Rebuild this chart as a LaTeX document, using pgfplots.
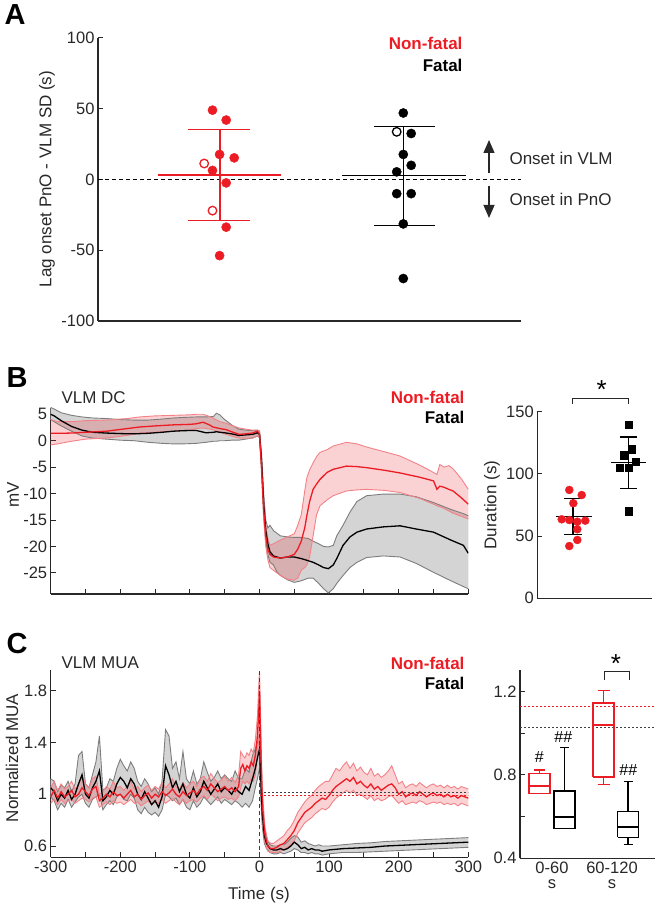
\documentclass[border=0pt]{standalone}
\usepackage{fontspec}
\setmainfont{Liberation Sans}
\usepackage{pgfplots}
\pgfplotsset{compat=1.18}
\usepackage{pgfplotstable}
\usepgfplotslibrary{fillbetween}
\usetikzlibrary{arrows.meta}
\definecolor{myred}{RGB}{236,28,36}
\definecolor{pinkedge}{RGB}{242,130,135}
\definecolor{greyfill}{RGB}{212,212,212}
\definecolor{greyedge}{RGB}{125,125,125}
\definecolor{axcol}{RGB}{40,40,40}
\newcommand\lab{\fontsize{17}{19}\selectfont}
\newcommand\panelfont{\fontsize{29}{30}\selectfont\bfseries}

\pgfplotsset{
  base/.style={scale only axis, axis x line*=bottom, axis y line*=left, tick align=inside,
   axis line style={axcol, line width=1.2pt}, tick style={axcol, line width=1pt},
   major tick length=5pt, minor tick length=5pt,
   tick label style={font=\fontsize{16.5}{18}\selectfont, text=axcol},
   /pgf/number format/assume math mode=true},
}

% ---------- Panel B: VLM DC (mV) ----------
\pgfplotstableread{
t m lo hi
-300 5.0 4.0 6.3
-295 4.7 3.6 6.0
-285 3.8 2.8 5.3
-270 2.7 1.8 4.8
-255 2.0 0.9 4.5
-240 1.6 0.5 4.3
-220 1.45 0.3 4.2
-200 1.35 0.1 4.0
-180 1.3 0.0 3.9
-160 1.4 -0.3 3.9
-140 1.6 -0.5 4.1
-124 1.8 -0.6 4.3
-110 1.9 -0.6 4.4
-91 1.95 -0.5 4.5
-77 1.5 -0.3 4.5
-66 1.6 -0.1 4.6
-62 1.7 -0.1 5.2
-57 1.6 0.0 4.9
-50 1.5 0.0 4.0
-40 1.3 0.1 3.0
-30 1.0 0.1 2.2
-20 1.1 0.3 2.0
-10 1.2 0.5 1.9
-3 1.5 0.9 2.0
0 1.2 0.6 1.8
3 -4 -5.5 -2.5
6 -12 -14 -10
9 -17 -19 -15
12 -19.5 -21.5 -16.5
15 -21 -23 -16
20 -21.8 -23.5 -17
25 -22 -24.8 -17.5
30 -22.2 -25.5 -18
40 -22 -26.3 -18.2
50 -22 -26.8 -18.3
60 -22.3 -26.5 -18.3
70 -22.7 -26 -18.5
77 -23 -26 -19
85 -23.5 -27 -19.5
92 -24 -28 -20
99 -24.2 -28.8 -20.1
106 -23.5 -28 -19.8
111 -22.3 -27 -18
120 -19.8 -25.5 -16
130 -18.2 -24 -13.5
140 -17.3 -23 -11.5
154 -16.7 -22.1 -10.4
178 -16.3 -21.8 -10.1
202 -16.1 -22 -10.1
225 -16.7 -23.2 -10.6
250 -17.3 -24.9 -11.7
275 -18.8 -26.5 -13
293 -19.8 -27.6 -13.8
300 -21.3 -28 -14.2
}\dcblack

\pgfplotstableread{
t m lo hi
-300 1.4 -0.8 4.0
-290 1.4 -0.6 3.6
-270 1.45 -0.1 3.6
-250 1.6 0.3 3.8
-220 1.8 0.5 3.9
-190 2.3 1.0 4.2
-172 2.6 1.45 4.5
-150 2.8 1.6 4.7
-124 3.0 1.8 4.8
-100 3.1 2.0 4.9
-91 3.2 2.3 5.0
-81 3.5 2.4 5.0
-72 3.0 2.2 4.6
-67 2.6 2.1 4.3
-57 2.3 1.6 3.6
-48 2.1 1.2 3.3
-38 1.6 0.8 2.8
-29 1.2 0.5 2.4
-20 1.3 0.5 2.2
-10 1.45 0.5 2.0
-3 1.8 0.9 2.0
0 1.3 0.6 1.9
3 -5 -6.5 -3.5
6 -13 -15 -11
9 -18 -20 -16
12 -20.5 -22.5 -18.5
15 -21.5 -24 -19.8
20 -22 -24.5 -19.5
30 -22.2 -25.5 -18.8
40 -22.0 -26.2 -18.2
50 -21.5 -26.4 -17.6
55 -20.5 -26.0 -16
60 -19 -24.5 -14
65 -16.5 -24 -9.5
68 -14.2 -23.5 -7
72 -11.5 -22 -5.5
77 -9.2 -18 -4.2
82 -8.2 -14 -3
87 -7.3 -12.3 -2.2
97 -6.0 -11.2 -1.7
106 -5.4 -10.4 -1.0
125 -4.8 -9.5 -0.3
140 -4.9 -9.3 -0.6
154 -5.1 -9.2 -1.2
180 -5.6 -9.4 -2.1
202 -6.1 -9.8 -2.9
230 -6.9 -10.9 -4.6
250 -7.6 -12 -6.0
255 -9.2 -12.3 -6.4
259 -8.6 -12.5 -4.5
265 -8.8 -12.8 -5.0
272 -9.2 -13.3 -4.7
278 -9.5 -13.7 -5.3
290 -10.8 -14.3 -7.2
300 -12 -14.8 -9.2
}\dcred

% ---------- Panel C: VLM MUA ----------
\pgfplotstableread{
t m lo hi
-300 1.05 0.98 1.12
-295 1.02 0.95 1.10
-290 0.95 0.88 1.02
-285 1.00 0.93 1.07
-280 0.97 0.90 1.05
-275 1.03 0.96 1.10
-270 0.96 0.90 1.02
-265 1.00 0.94 1.08
-260 1.08 0.98 1.30
-255 1.15 1.00 1.33
-250 1.00 0.93 1.08
-245 0.97 0.90 1.05
-240 1.05 0.96 1.15
-235 1.10 0.98 1.25
-230 1.18 1.00 1.45
-225 0.95 0.88 1.03
-220 0.98 0.92 1.05
-215 1.03 0.95 1.12
-210 1.00 0.92 1.10
-205 1.08 0.98 1.20
-200 1.13 1.00 1.27
-195 1.10 0.96 1.22
-190 1.05 0.95 1.18
-185 1.12 1.00 1.25
-180 1.08 0.97 1.20
-175 1.00 0.88 1.10
-170 0.96 0.85 1.06
-165 1.02 0.90 1.12
-160 0.97 0.86 1.08
-155 0.92 0.84 1.02
-150 0.95 0.86 1.05
-145 0.90 0.83 1.00
-140 0.98 0.88 1.10
-135 1.22 1.00 1.50
-130 1.15 0.98 1.45
-125 1.05 0.95 1.20
-120 1.10 0.97 1.25
-115 1.02 0.92 1.12
-110 1.08 0.96 1.33
-105 1.00 0.90 1.12
-100 0.97 0.88 1.08
-95 1.05 0.95 1.18
-90 0.98 0.90 1.08
-85 1.02 0.93 1.12
-80 1.10 0.98 1.25
-75 1.05 0.95 1.17
-70 1.00 0.92 1.10
-65 1.04 0.95 1.13
-60 1.08 0.98 1.18
-55 1.02 0.93 1.12
-50 1.05 0.96 1.15
-45 1.03 0.94 1.12
-40 1.00 0.92 1.10
-35 1.05 0.95 1.18
-30 1.02 0.93 1.12
-25 1.00 0.90 1.12
-20 1.06 0.93 1.20
-15 1.03 0.90 1.17
-10 1.12 0.95 1.30
-6 1.20 1.05 1.35
-3 1.28 1.12 1.40
0 1.35 1.20 1.45
2 1.10 0.95 1.20
4 0.85 0.75 0.95
7 0.68 0.62 0.75
10 0.62 0.58 0.66
15 0.58 0.55 0.61
20 0.57 0.54 0.60
25 0.57 0.54 0.60
30 0.58 0.55 0.61
35 0.57 0.54 0.61
40 0.58 0.55 0.63
45 0.60 0.56 0.66
50 0.63 0.58 0.68
55 0.61 0.57 0.67
60 0.58 0.55 0.63
65 0.59 0.55 0.64
70 0.57 0.54 0.62
75 0.58 0.55 0.61
80 0.57 0.54 0.60
85 0.57 0.54 0.61
90 0.56 0.53 0.60
100 0.57 0.54 0.60
120 0.58 0.55 0.61
140 0.585 0.55 0.62
160 0.59 0.555 0.625
180 0.60 0.56 0.635
200 0.605 0.565 0.64
220 0.61 0.57 0.645
240 0.615 0.575 0.65
260 0.62 0.58 0.655
280 0.625 0.585 0.66
300 0.63 0.59 0.665
}\muablack

\pgfplotstableread{
t m lo hi
-300 0.98 0.93 1.05
-295 1.03 0.96 1.10
-290 0.97 0.92 1.03
-285 1.02 0.96 1.08
-280 0.98 0.93 1.04
-275 1.00 0.95 1.06
-270 1.03 0.96 1.10
-265 0.98 0.93 1.04
-260 1.00 0.95 1.07
-255 1.05 0.97 1.15
-250 1.02 0.96 1.08
-245 0.99 0.94 1.05
-240 1.04 0.97 1.12
-235 1.06 0.98 1.14
-230 0.95 0.90 1.00
-225 0.97 0.92 1.02
-220 1.00 0.94 1.06
-215 0.98 0.92 1.04
-210 1.02 0.95 1.10
-205 0.99 0.93 1.05
-200 1.00 0.94 1.06
-195 0.97 0.92 1.03
-190 1.00 0.94 1.06
-185 1.03 0.96 1.10
-180 0.98 0.93 1.04
-175 1.00 0.94 1.06
-170 0.96 0.91 1.02
-165 0.99 0.93 1.05
-160 1.01 0.95 1.07
-155 0.97 0.92 1.03
-150 1.00 0.94 1.06
-145 0.98 0.93 1.04
-140 1.02 0.96 1.09
-135 0.99 0.93 1.05
-130 1.01 0.95 1.08
-125 1.04 0.97 1.12
-120 1.00 0.94 1.06
-115 0.98 0.92 1.04
-110 1.02 0.96 1.09
-105 0.99 0.93 1.05
-100 1.01 0.95 1.08
-95 1.03 0.96 1.10
-90 1.00 0.94 1.06
-85 1.04 0.97 1.12
-80 1.06 0.99 1.14
-75 1.03 0.96 1.10
-70 1.08 1.00 1.16
-65 1.05 0.98 1.12
-60 1.02 0.95 1.09
-55 1.04 0.97 1.11
-50 1.06 0.98 1.14
-45 1.03 0.96 1.10
-40 1.05 0.97 1.13
-35 1.02 0.95 1.09
-30 1.06 0.98 1.15
-27 1.20 1.05 1.33
-24 1.23 1.10 1.30
-21 1.18 1.08 1.28
-18 1.22 1.10 1.32
-15 1.20 1.08 1.30
-12 1.25 1.12 1.35
-9 1.22 1.10 1.32
-6 1.30 1.15 1.42
-3 1.45 1.30 1.60
-1 1.65 1.45 1.85
0 1.80 1.60 1.95
1 1.55 1.35 1.75
3 1.10 0.95 1.25
5 0.85 0.75 0.95
8 0.68 0.62 0.74
12 0.60 0.56 0.64
16 0.58 0.55 0.62
20 0.58 0.55 0.62
25 0.59 0.55 0.64
30 0.61 0.56 0.66
35 0.62 0.57 0.68
40 0.65 0.59 0.72
45 0.68 0.61 0.75
50 0.72 0.64 0.80
55 0.78 0.70 0.86
60 0.82 0.74 0.90
65 0.86 0.78 0.94
70 0.88 0.80 0.97
75 0.90 0.82 0.99
80 0.93 0.85 1.03
85 0.95 0.87 1.06
90 0.97 0.89 1.08
95 0.96 0.88 1.10
100 0.99 0.90 1.10
105 1.03 0.94 1.15
110 1.06 0.97 1.20
115 1.08 0.99 1.18
120 1.10 1.01 1.22
125 1.12 1.03 1.25
130 1.10 1.01 1.20
135 1.13 1.03 1.24
140 1.08 0.99 1.18
145 1.10 1.00 1.21
150 1.07 0.98 1.17
155 1.05 0.96 1.15
160 1.08 0.99 1.20
165 1.04 0.95 1.14
170 1.06 0.97 1.16
175 1.03 0.95 1.13
180 1.05 0.96 1.15
185 1.07 0.98 1.18
190 1.08 0.99 1.22
195 1.05 0.96 1.15
200 1.00 0.93 1.08
205 1.02 0.95 1.10
210 0.98 0.92 1.05
215 1.00 0.93 1.07
220 1.01 0.94 1.08
225 0.99 0.93 1.06
230 1.02 0.95 1.09
235 1.00 0.94 1.07
240 0.98 0.92 1.05
245 1.00 0.93 1.07
250 1.01 0.94 1.08
255 0.99 0.93 1.06
260 1.00 0.94 1.07
265 0.98 0.92 1.05
270 1.00 0.93 1.07
275 0.98 0.92 1.05
280 0.99 0.93 1.06
285 0.97 0.91 1.04
290 0.99 0.93 1.06
295 0.98 0.92 1.05
300 0.97 0.91 1.04
}\muared

\begin{document}
\begin{tikzpicture}[x=1pt,y=1pt]
\path (0,0) rectangle (656,907);

% ================= Panel A =================
\begin{axis}[base, at={(98pt,586pt)}, anchor=south west, width=423pt, height=283pt,
  xmin=98, xmax=521, ymin=-100, ymax=100, ytick={-100,-50,0,50,100}, xtick=\empty, clip=false]
\addplot[black, line width=1.3pt, dash pattern=on 4pt off 3pt] coordinates {(98,0) (521,0)};
\addplot[myred, line width=1.6pt] coordinates {(157.5,3.1) (281,3.1)};
\addplot[myred, line width=1.2pt] coordinates {(220,35.4) (220,-29)};
\addplot[myred, line width=1.2pt] coordinates {(188,35.4) (250,35.4)};
\addplot[myred, line width=1.2pt] coordinates {(188,-29) (250,-29)};
\addplot[black, line width=1.6pt] coordinates {(342,2.8) (466,2.8)};
\addplot[black, line width=1.2pt] coordinates {(403.3,37.3) (403.3,-32.3)};
\addplot[black, line width=1.2pt] coordinates {(374,37.3) (435,37.3)};
\addplot[black, line width=1.2pt] coordinates {(374,-32.3) (435,-32.3)};
\addplot[only marks, mark=*, mark size=4.6pt, myred, mark options={fill=myred}] coordinates {
(212.5,49) (226.2,42) (219.6,17.7) (234.2,15.3) (212.5,6.4) (226.2,-2.4) (226.2,-33.7) (219.6,-53.8)};
\addplot[only marks, mark=*, mark size=4.3pt, myred, mark options={fill=white, draw=myred, line width=1.3pt}] coordinates {
(204.2,11.3) (212.5,-22)};
\addplot[only marks, mark=*, mark size=4.6pt, black, mark options={fill=black}] coordinates {
(403.3,47) (411.2,32.5) (403.3,17.7) (411.2,10) (396.7,5.4) (396.7,-10) (411.2,-10) (403.3,-31.4) (403.3,-70)};
\addplot[only marks, mark=*, mark size=4.3pt, black, mark options={fill=white, draw=black, line width=1.3pt}] coordinates {
(396.7,33.7)};
\end{axis}

% ================= Panel B left =================
\begin{axis}[base, at={(50.7pt,313pt)}, anchor=south west, width=417.6pt, height=186.3pt,
  xmin=-300, xmax=300, ymin=-29, ymax=6.25, xtick={-300,-250,...,300}, xticklabels={},
  ytick={-25,-20,-15,-10,-5,0,5}]
\addplot[name path=bhi, greyedge, line width=0.9pt] table[x=t,y=hi]{\dcblack};
\addplot[name path=blo, greyedge, line width=0.9pt] table[x=t,y=lo]{\dcblack};
\addplot[fill=greyfill, draw=none] fill between[of=bhi and blo];
\addplot[name path=rhi, pinkedge, line width=0.9pt] table[x=t,y=hi]{\dcred};
\addplot[name path=rlo, pinkedge, line width=0.9pt] table[x=t,y=lo]{\dcred};
\addplot[fill=myred, fill opacity=0.2, draw=none] fill between[of=rhi and rlo];
\addplot[black, line width=1.3pt] table[x=t,y=m]{\dcblack};
\addplot[myred, line width=1.3pt] table[x=t,y=m]{\dcred};
\end{axis}

% ================= Panel B right =================
\begin{axis}[base, at={(537.3pt,308.7pt)}, anchor=south west, width=114.7pt, height=186.6pt,
  xmin=537.3, xmax=652, ymin=0, ymax=150, ytick={0,50,100,150}, xtick=\empty, clip=false]
\addplot[black, line width=1.3pt] coordinates {(556,66) (592,66)};
\addplot[black, line width=1.2pt] coordinates {(573,80.2) (573,51.6)};
\addplot[black, line width=1.2pt] coordinates {(564,80.2) (582,80.2)};
\addplot[black, line width=1.2pt] coordinates {(564,51.6) (582,51.6)};
\addplot[black, line width=1.3pt] coordinates {(610.7,108.9) (645.7,108.9)};
\addplot[black, line width=1.2pt] coordinates {(628.3,129.7) (628.3,88.3)};
\addplot[black, line width=1.2pt] coordinates {(620,129.7) (636.7,129.7)};
\addplot[black, line width=1.2pt] coordinates {(620,88.3) (636.7,88.3)};
\addplot[only marks, mark=*, mark size=4pt, myred, mark options={fill=myred}] coordinates {
(569.3,87.1) (581.7,83.0) (573.3,76.4) (561.7,63.5) (569.3,62.9) (577.3,61.6) (585.3,62.4) (577.3,55.5) (577.3,46.9) (569.3,42.0)};
\addplot[only marks, mark=square*, mark size=3.6pt, black, mark options={fill=black}] coordinates {
(628.3,139.6) (631.7,119.8) (624,115) (635.3,109.7) (620,104.8) (628.3,104.8) (628.3,70)};
\end{axis}

% ================= Panel C left =================
\begin{axis}[base, at={(50.7pt,49.7pt)}, anchor=south west, width=417.6pt, height=187.3pt,
  xmin=-300, xmax=300, ymin=0.513, ymax=1.96, xtick={-300,-200,...,300},
  minor xtick={-250,-150,...,250}, ytick={0.6,1,1.4,1.8}]
\addplot[name path=bhi, greyedge, line width=0.9pt] table[x=t,y=hi]{\muablack};
\addplot[name path=blo, greyedge, line width=0.9pt] table[x=t,y=lo]{\muablack};
\addplot[fill=greyfill, draw=none] fill between[of=bhi and blo];
\addplot[name path=rhi, pinkedge, line width=0.9pt] table[x=t,y=hi]{\muared};
\addplot[name path=rlo, pinkedge, line width=0.9pt] table[x=t,y=lo]{\muared};
\addplot[fill=myred, fill opacity=0.2, draw=none] fill between[of=rhi and rlo];
\addplot[black, line width=1.3pt] table[x=t,y=m]{\muablack};
\addplot[myred, line width=1.3pt] table[x=t,y=m]{\muared};
\addplot[black!75, line width=1.2pt, dash pattern=on 4pt off 3pt] coordinates {(0,0.513) (0,1.96)};
\addplot[black!75, line width=1.1pt, dash pattern=on 2pt off 2pt] coordinates {(1,1.015) (300,1.015)};
\addplot[myred, line width=1.1pt, dash pattern=on 2pt off 2pt] coordinates {(1,0.99) (300,0.99)};
\end{axis}

% ================= Panel C right =================
\begin{axis}[base, at={(520pt,48.7pt)}, anchor=south west, width=135pt, height=188.3pt,
  xmin=520, xmax=655, ymin=0.4, ymax=1.304, ytick={0.4,0.8,1.2}, minor ytick={0.6,1.0},
  xtick={552,612}, xticklabels={{0-60\\s},{60-120\\s}},
  xticklabel style={align=center, font=\fontsize{16.5}{15}\selectfont},
  x tick style={draw=none}, clip=false]
\addplot[myred, line width=1.1pt, dash pattern=on 2pt off 2pt] coordinates {(520,1.128) (655,1.128)};
\addplot[black!75, line width=1.1pt, dash pattern=on 2pt off 2pt] coordinates {(520,1.028) (655,1.028)};
\addplot[myred, line width=1.3pt] coordinates {(529,0.71) (550,0.71) (550,0.806) (529,0.806) (529,0.71)};
\addplot[myred, line width=1.3pt] coordinates {(529,0.747) (550,0.747)};
\addplot[myred, line width=1.3pt] coordinates {(539.5,0.806) (539.5,0.824)};
\addplot[myred, line width=1.3pt] coordinates {(534,0.824) (545,0.824)};
\addplot[black, line width=1.3pt] coordinates {(554,0.542) (575,0.542) (575,0.723) (554,0.723) (554,0.542)};
\addplot[black, line width=1.3pt] coordinates {(554,0.598) (575,0.598)};
\addplot[black, line width=1.3pt] coordinates {(564.5,0.723) (564.5,0.931)};
\addplot[black, line width=1.3pt] coordinates {(560,0.931) (569,0.931)};
\addplot[myred, line width=1.3pt] coordinates {(593,0.79) (614,0.79) (614,1.145) (593,1.145) (593,0.79)};
\addplot[myred, line width=1.3pt] coordinates {(593,1.04) (614,1.04)};
\addplot[myred, line width=1.3pt] coordinates {(603.5,1.145) (603.5,1.207)};
\addplot[myred, line width=1.3pt] coordinates {(597.5,1.207) (609.5,1.207)};
\addplot[myred, line width=1.3pt] coordinates {(603.5,0.79) (603.5,0.755)};
\addplot[myred, line width=1.3pt] coordinates {(597.5,0.755) (609.5,0.755)};
\addplot[black, line width=1.3pt] coordinates {(617.5,0.50) (638.5,0.50) (638.5,0.624) (617.5,0.624) (617.5,0.50)};
\addplot[black, line width=1.3pt] coordinates {(617.5,0.55) (638.5,0.55)};
\addplot[black, line width=1.3pt] coordinates {(628,0.624) (628,0.77)};
\addplot[black, line width=1.3pt] coordinates {(623.5,0.77) (632.5,0.77)};
\addplot[black, line width=1.3pt] coordinates {(628,0.50) (628,0.467)};
\addplot[black, line width=1.3pt] coordinates {(623.5,0.467) (632.5,0.467)};
\end{axis}

% ================= Text and annotations =================
\node[anchor=base west, font=\panelfont] at (1,882) {A};
\node[anchor=base east, text=myred, font=\lab\bfseries] at (466,857) {Non-fatal};
\node[anchor=base east, font=\lab\bfseries] at (466,835.3) {Fatal};
\draw[axcol, line width=1.2pt, -{Triangle[width=11pt,length=13pt]}] (489,734.3) -- (489,767);
\draw[axcol, line width=1.2pt, -{Triangle[width=11pt,length=13pt]}] (489,721.3) -- (489,689);
\node[anchor=base west, font=\lab, text=axcol] at (506,742.7) {Onset in VLM};
\node[anchor=base west, font=\lab, text=axcol] at (506,701) {Onset in PnO};
\node[rotate=90, font=\lab, text=axcol] at (47,728) {Lag onset PnO - VLM SD (s)};

\node[anchor=base west, font=\panelfont] at (3,519.7) {B};
\node[anchor=base west, font=\lab, text=axcol] at (58,503.7) {VLM DC};
\node[anchor=base east, text=myred, font=\lab\bfseries] at (468,503.7) {Non-fatal};
\node[anchor=base east, font=\lab\bfseries] at (468,483.7) {Fatal};
\node[rotate=90, font=\lab, text=axcol] at (13,412) {mV};
\node[rotate=90, font=\lab, text=axcol] at (492,402) {Duration (s)};
\draw[axcol, line width=1pt] (572.7,503) -- (572.7,508.7) -- (628,508.7) -- (628,503);
\node[font=\fontsize{26}{26}\selectfont] at (601.7,517) {*};

\node[anchor=base west, font=\panelfont] at (3,253) {C};
\node[anchor=base west, font=\lab, text=axcol] at (58,238.7) {VLM MUA};
\node[anchor=base east, text=myred, font=\lab\bfseries] at (468,237.7) {Non-fatal};
\node[anchor=base east, font=\lab\bfseries] at (468,217) {Fatal};
\node[rotate=90, font=\lab, text=axcol] at (12,149) {Normalized MUA};
\node[anchor=base, font=\lab, text=axcol] at (259,7) {Time (s)};
\node[font=\fontsize{16}{16}\selectfont] at (539.3,150.3) {\#};
\node[font=\fontsize{16}{16}\selectfont] at (563.3,170.3) {\#\#};
\node[font=\fontsize{16}{16}\selectfont] at (628.3,137) {\#\#};
\draw[axcol, line width=1pt] (604,227) -- (604,235.3) -- (629,235.3) -- (629,227);
\node[font=\fontsize{26}{26}\selectfont] at (616,243) {*};
\end{tikzpicture}
\end{document}
